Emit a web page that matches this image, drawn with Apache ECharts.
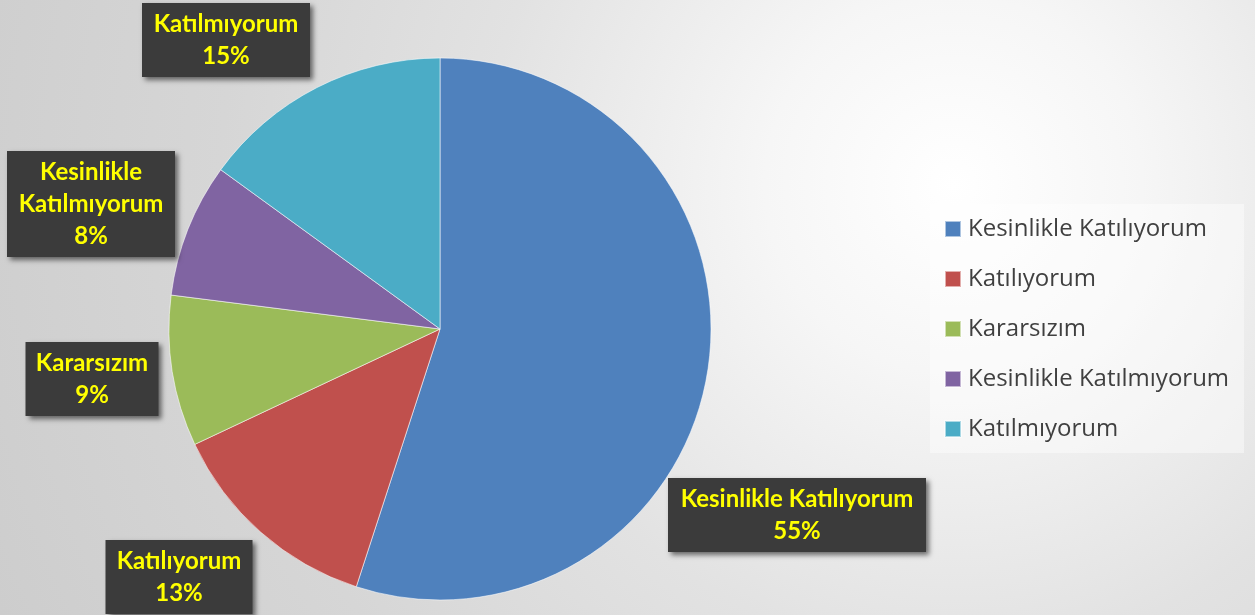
<!DOCTYPE html>
<html>
<head>
<meta charset="utf-8">
<script src="https://cdn.jsdelivr.net/npm/echarts@6/dist/echarts.min.js"></script>
<style>
  html, body { margin: 0; padding: 0; }
  body {
    width: 1255px; height: 615px; overflow: hidden;
    background: radial-gradient(circle at 76% 30%, #ffffff 0%, #f6f6f6 18%, #e2e2e2 45%, #d6d6d6 70%, #cdcdcd 100%);
  }
  #chart { width: 1255px; height: 615px; }
</style>
</head>
<body>
<div id="chart"></div>
<script>
// Survey answers and their shares (%)
const categories = ['Kesinlikle Katılıyorum', 'Katılıyorum', 'Kararsızım', 'Kesinlikle Katılmıyorum', 'Katılmıyorum'];
const values = [55, 13, 9, 8, 15];
const colors = ['#4F81BD', '#C0504D', '#9BBB59', '#8064A2', '#4BACC6'];

// Callout boxes: centre (px) and inner text width (px)
const calloutCentres = [[797, 515], [179, 577], [92, 379], [91, 204], [226, 40]];
const calloutWidths = [236, 125, 111, 146, 146];

const chart = echarts.init(document.getElementById('chart'), null, { renderer: 'canvas' });

const labelFont = 'Lato, "Open Sans", sans-serif';
const legendFont = '"Open Sans", Lato, sans-serif';

chart.setOption({
  backgroundColor: 'transparent',
  color: colors,
  animation: false,
  graphic: [{
    // panel behind the legend
    type: 'rect',
    left: 930,
    top: 204,
    z: -1,
    shape: { width: 314, height: 249 },
    style: { fill: 'rgba(255,255,255,0.42)' },
    silent: true
  }],
  legend: {
    orient: 'vertical',
    left: 930,
    top: 204,
    padding: [13, 12, 13, 14],
    itemWidth: 16,
    itemHeight: 16,
    itemGap: 26,
    icon: 'rect',
    data: categories,
    textStyle: { fontFamily: legendFont, fontSize: 24, color: '#404040', lineHeight: 24, padding: [0, 0, 0, 2] }
  },
  series: [{
    type: 'pie',
    center: [440, 329],
    radius: [0, 271],
    startAngle: 90,
    clockwise: true,
    data: categories.map((name, i) => ({
      name,
      value: values[i],
      label: { width: calloutWidths[i] }
    })),
    itemStyle: { borderColor: 'rgba(255,255,255,0.55)', borderWidth: 1 },
    label: {
      show: true,
      position: 'outside',
      overflow: 'none',
      formatter: p => (p.dataIndex === 3 ? p.name.replace(' ', '\n') : p.name) + '\n' + p.value + '%',
      fontFamily: labelFont,
      fontWeight: 'bold',
      fontSize: 24,
      lineHeight: 32,
      color: '#FFFF00',
      align: 'center',
      backgroundColor: '#3b3b3b',
      padding: [5, 11, 5, 11],
      shadowColor: 'rgba(0,0,0,0.55)',
      shadowBlur: 5,
      shadowOffsetX: 3,
      shadowOffsetY: 3
    },
    labelLine: { show: false },
    labelLayout: params => ({
      x: calloutCentres[params.dataIndex][0],
      y: calloutCentres[params.dataIndex][1],
      align: 'center',
      verticalAlign: 'middle'
    }),
    emphasis: { disabled: true }
  }]
});
</script>
</body>
</html>
